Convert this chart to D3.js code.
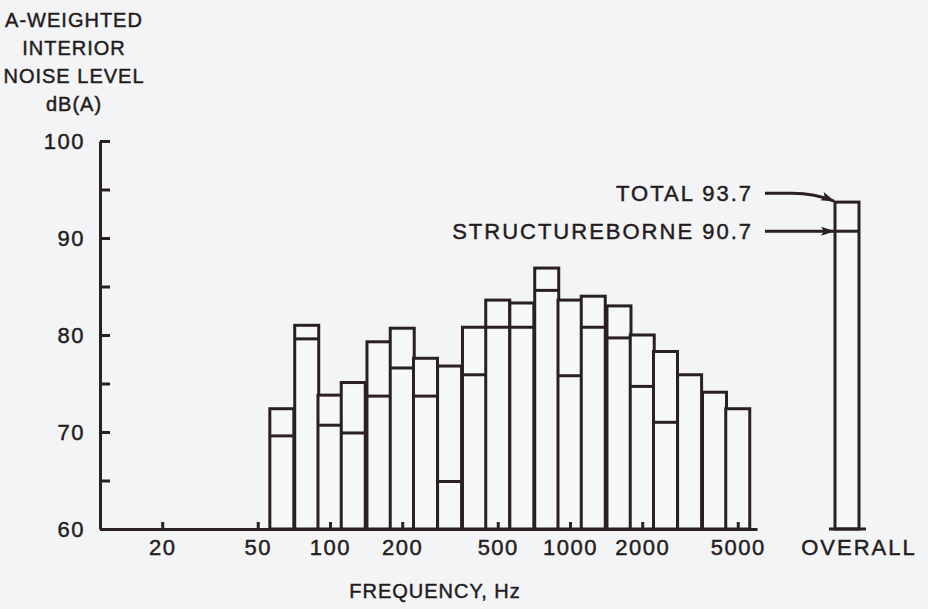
<!DOCTYPE html>
<html>
<head>
<meta charset="utf-8">
<script src="https://cdn.jsdelivr.net/npm/d3@7"></script>
<style>
  html, body { margin: 0; padding: 0; background: #f3f4f6; }
  svg { display: block; }
  text { font-family: "Liberation Sans", Arial, Helvetica, sans-serif; fill: #241c1c; stroke: #241c1c; stroke-width: 0.45px; }
</style>
</head>
<body>
<svg id="chart" width="928" height="609"></svg>
<script>
// One-third-octave band centre frequencies (Hz)
const bands = [63, 80, 100, 125, 160, 200, 250, 315, 400, 500, 630, 800, 1000, 1250, 1600, 2000, 2500, 3150, 4000, 5000];
// Total A-weighted interior level per band, dB(A)
const totalLevel = [72.4, 81.0, 73.8, 75.1, 79.3, 80.7, 77.6, 76.8, 80.8, 83.6, 83.3, 86.9, 83.6, 84.0, 83.0, 80.0, 78.3, 75.9, 74.1, 72.4];
// Structureborne contribution per band, dB(A) (null where not separated)
const structureLevel = [69.6, 79.6, 70.7, 69.9, 73.7, 76.6, 73.7, 64.9, 75.9, 80.8, 80.8, 84.6, 75.8, 80.8, 79.7, 74.7, 71.0, null, null, null];
// Overall levels
const overallCategory = ["OVERALL"];
const overallTotal = [93.7];
const overallStructure = [90.7];
// Axis ticks
const freqTicks = [20, 50, 100, 200, 500, 1000, 2000, 5000];
const levelTicks = [60, 65, 70, 75, 80, 85, 90, 95, 100];
const yTitleLines = ["A-WEIGHTED", "INTERIOR", "NOISE LEVEL", "dB(A)"];

const ink = "#2a2020";
const svg = d3.select("#chart");

const x = d3.scaleLog().domain([11.01, 6014]).range([100, 757]);
const y = d3.scaleLinear().domain([60, 100]).range([529, 141]);
const xo = d3.scaleBand().domain(overallCategory).range([835, 859]);

const halfBand = Math.pow(10, 0.05);

svg.append("defs").append("marker")
  .attr("id", "arrow").attr("viewBox", "0 0 14 10")
  .attr("refX", 13).attr("refY", 5)
  .attr("markerWidth", 14).attr("markerHeight", 10)
  .attr("markerUnits", "userSpaceOnUse").attr("orient", "auto")
  .append("path").attr("d", "M0,0.5 L14,5 L0,9.5 L3,5 Z").attr("fill", ink);

// Band bars
const bars = svg.append("g").attr("class", "bars");
bands.forEach((f, i) => {
  const x0 = x(f / halfBand), x1 = x(f * halfBand);
  bars.append("rect")
    .attr("x", x0).attr("y", y(totalLevel[i]))
    .attr("width", x1 - x0).attr("height", y(60) - y(totalLevel[i]))
    .attr("fill", "#f6f7f8").attr("stroke", ink).attr("stroke-width", 3);
  if (structureLevel[i] != null) {
    bars.append("line")
      .attr("x1", x0).attr("x2", x1)
      .attr("y1", y(structureLevel[i])).attr("y2", y(structureLevel[i]))
      .attr("stroke", ink).attr("stroke-width", 3);
  }
});

// X axis
const xAxis = svg.append("g")
  .attr("transform", `translate(0,${y(60)})`)
  .call(d3.axisBottom(x).tickValues(freqTicks).tickFormat(d3.format("d"))
    .tickSizeInner(-7).tickSizeOuter(0).tickPadding(10));
xAxis.select(".domain").attr("stroke", ink).attr("stroke-width", 3);
xAxis.selectAll(".tick line").attr("stroke", ink).attr("stroke-width", 3);
xAxis.selectAll(".tick text").attr("font-size", 22).attr("letter-spacing", "1.5px")
  .attr("fill", "#241c1c").attr("font-family", null);

// Y axis
const yAxis = svg.append("g")
  .attr("transform", `translate(${x(11.01)},0)`)
  .call(d3.axisLeft(y).tickValues(levelTicks)
    .tickFormat(d => d % 10 === 0 ? d : "")
    .tickSizeInner(-10).tickSizeOuter(0).tickPadding(15));
yAxis.select(".domain").attr("stroke", ink).attr("stroke-width", 3);
yAxis.selectAll(".tick line").attr("stroke", ink).attr("stroke-width", 3);
yAxis.selectAll(".tick text").attr("font-size", 22).attr("letter-spacing", "1.5px")
  .attr("fill", "#241c1c").attr("font-family", null);

// Overall bar
const ov = svg.append("g");
overallCategory.forEach((c, i) => {
  const x0 = xo(c), w = xo.bandwidth();
  ov.append("rect")
    .attr("x", x0).attr("y", y(overallTotal[i]))
    .attr("width", w).attr("height", y(60) - y(overallTotal[i]))
    .attr("fill", "#f6f7f8").attr("stroke", ink).attr("stroke-width", 3);
  ov.append("line")
    .attr("x1", x0).attr("x2", x0 + w)
    .attr("y1", y(overallStructure[i])).attr("y2", y(overallStructure[i]))
    .attr("stroke", ink).attr("stroke-width", 3);
  ov.append("line")
    .attr("x1", x0 - 6).attr("x2", x0 + w + 7)
    .attr("y1", y(60)).attr("y2", y(60))
    .attr("stroke", ink).attr("stroke-width", 3);
  ov.append("text")
    .attr("x", x0 + w / 2 + 12).attr("y", y(60) + 10).attr("dy", "0.71em")
    .attr("text-anchor", "middle").attr("font-size", 22).attr("letter-spacing", "2px")
    .text(c);

  // Annotations with arrows
  const ys = y(overallStructure[i]), yt = y(overallTotal[i]);
  const labelTotalY = ys - 38;
  ov.append("text")
    .attr("x", 753).attr("y", labelTotalY).attr("dy", "0.36em")
    .attr("text-anchor", "end").attr("font-size", 22).attr("letter-spacing", "2px")
    .text("TOTAL " + overallTotal[i].toFixed(1));
  ov.append("path")
    .attr("d", `M765,${labelTotalY} L792,${labelTotalY} Q815,${labelTotalY} ${x0 - 1},${yt - 1}`)
    .attr("fill", "none").attr("stroke", ink).attr("stroke-width", 3)
    .attr("marker-end", "url(#arrow)");

  ov.append("text")
    .attr("x", 753).attr("y", ys).attr("dy", "0.36em")
    .attr("text-anchor", "end").attr("font-size", 22).attr("letter-spacing", "2px")
    .text("STRUCTUREBORNE " + overallStructure[i].toFixed(1));
  ov.append("path")
    .attr("d", `M765,${ys} L${x0 - 1},${ys}`)
    .attr("fill", "none").attr("stroke", ink).attr("stroke-width", 3)
    .attr("marker-end", "url(#arrow)");
});

// Y axis title
svg.append("g").selectAll("text").data(yTitleLines).join("text")
  .attr("x", 74).attr("y", (d, i) => 20 + i * 28).attr("dy", "0.36em")
  .attr("text-anchor", "middle").attr("font-size", 20).attr("letter-spacing", "1px")
  .text(d => d);

// X axis title
svg.append("text")
  .attr("x", 435).attr("y", 591).attr("dy", "0.36em")
  .attr("text-anchor", "middle").attr("font-size", 20).attr("letter-spacing", "1px")
  .text("FREQUENCY, Hz");
</script>
</body>
</html>
